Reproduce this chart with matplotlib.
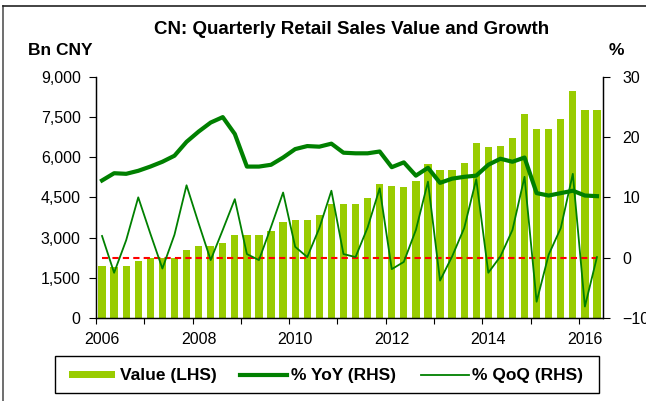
import matplotlib
matplotlib.use("Agg")
import matplotlib.pyplot as plt
from matplotlib.lines import Line2D
from matplotlib.patches import Rectangle
import numpy as np

plt.rcParams["font.family"] = ["Liberation Sans", "DejaVu Sans"]

# quarterly data 2006Q1 - 2016Q2
value = [1950, 1900, 1934, 2131, 2256, 2256, 2256, 2554, 2677, 2677,
         2800, 3087, 3087, 3087, 3236, 3582, 3645, 3645, 3831, 4265,
         4265, 4265, 4488, 5008, 4922, 4885, 5096, 5753, 5530, 5530,
         5790, 6534, 6373, 6410, 6707, 7612, 7054, 7054, 7426, 8479,
         7773, 7773]
yoy = [12.8, 14.0, 13.9, 14.4, 15.1, 15.9, 16.9, 19.2, 20.9, 22.4,
       23.3, 20.5, 15.1, 15.1, 15.4, 16.6, 18.0, 18.5, 18.4, 18.9,
       17.4, 17.3, 17.3, 17.6, 15.0, 15.8, 13.6, 14.9, 12.4, 13.1,
       13.4, 13.6, 15.4, 16.4, 15.9, 16.6, 10.7, 10.3, 10.7, 11.1,
       10.3, 10.2]
qoq = [3.6, -2.5, 2.9, 10.0, 4.0, -1.8, 3.8, 12.0, 5.7, -0.4,
       4.6, 9.7, 0.6, -0.4, 5.1, 10.8, 1.8, 0.1, 4.9, 11.1,
       0.6, 0.1, 5.0, 11.5, -1.9, -0.7, 4.6, 12.6, -3.8, 0.2,
       4.9, 13.0, -2.5, 0.2, 4.6, 13.4, -7.3, 0.5, 4.9, 13.9,
       -8.1, 0.1]
year_labels = ["2006", "2008", "2010", "2012", "2014", "2016"]
legend_labels = ["Value (LHS)", "% YoY (RHS)", "% QoQ (RHS)"]

bar_col = "#99CC00"
line_col = "#008000"

W, H = 646, 401


def px(x, y):
    # pixel position (from top-left) -> figure fraction
    return x / W, 1 - y / H


x = np.arange(len(value))

fig = plt.figure(figsize=(W / 100, H / 100), dpi=100)
ax = fig.add_axes([96 / W, 83 / H, 507 / W, 241.3 / H])
ax2 = ax.twinx()

ax.bar(x, value, width=0.6, color=bar_col, zorder=2)
ax.set_ylim(0, 9000)
ax.set_yticks(np.arange(0, 9001, 1500))
ax.set_yticklabels([f"{v:,}" for v in range(0, 9001, 1500)])
ax.set_xlim(-0.5, len(value) - 0.5)

ax2.plot(x, yoy, color=line_col, lw=3.0, zorder=3)
ax2.plot(x, qoq, color=line_col, lw=1.3, zorder=3)
ax2.plot([x[0], x[-1]], [0, 0], color="#FF0000", lw=1.5, ls=(0, (3, 2)), zorder=2)
ax2.set_ylim(-10, 30)
ax2.set_yticks([-10, 0, 10, 20, 30])

# x ticks: marks between quarters each year, labels every two years
ax.set_xticks(np.arange(-0.5, len(value) - 1, 4))
ax.set_xticklabels([])
ax.set_xticks(np.arange(0, len(value), 8), minor=True)
ax.set_xticklabels(year_labels, minor=True)
ax.tick_params(axis="x", which="major", length=4, width=0.8, direction="out")
ax.tick_params(axis="x", which="minor", length=0, pad=10, labelsize=11.5)
ax.tick_params(axis="y", length=5, width=0.8, labelsize=11.5, pad=6)
ax2.tick_params(axis="y", length=5, width=0.8, labelsize=11.5, pad=9)

for a in (ax, ax2):
    a.spines["top"].set_visible(False)
    for s in ("left", "right", "bottom"):
        a.spines[s].set_linewidth(0.9)

fig.text(*px(351.5, 34), "CN: Quarterly Retail Sales Value and Growth",
         ha="center", va="baseline", fontsize=13.5, fontweight="bold")
fig.text(*px(28, 55), "Bn CNY", ha="left", va="baseline",
         fontsize=12.5, fontweight="bold")
fig.text(*px(616, 55), "%", ha="center", va="baseline",
         fontsize=12.5, fontweight="bold")

# legend box drawn by hand to match the original layout
x0, y0 = px(55, 393)
x1, y1 = px(599, 356)
fig.add_artist(Rectangle((x0, y0), x1 - x0, y1 - y0, transform=fig.transFigure,
                         facecolor="white", edgecolor="black", lw=1.0))
rx, ry = px(69, 378)
fig.add_artist(Rectangle((rx, ry), 46 / W, 7 / H, transform=fig.transFigure,
                         facecolor=bar_col, edgecolor="none"))
ly = 1 - 374.5 / H
fig.add_artist(Line2D([240 / W, 287 / W], [ly, ly], color=line_col, lw=3))
fig.add_artist(Line2D([421 / W, 469 / W], [ly, ly], color=line_col, lw=1.3))
for lx, lab in zip([120, 291, 472], legend_labels):
    fig.text(*px(lx, 380), lab, ha="left", va="baseline",
             fontsize=12.5, fontweight="bold")

# outer frame lines
fig.add_artist(Line2D([3 / W, 3 / W], [0, 1 - 6 / H], color="#555555", lw=1.2))
fig.add_artist(Line2D([3 / W, 1], [1 - 6 / H, 1 - 6 / H], color="#222222", lw=1.2))

fig.savefig("out.png", dpi=100)
